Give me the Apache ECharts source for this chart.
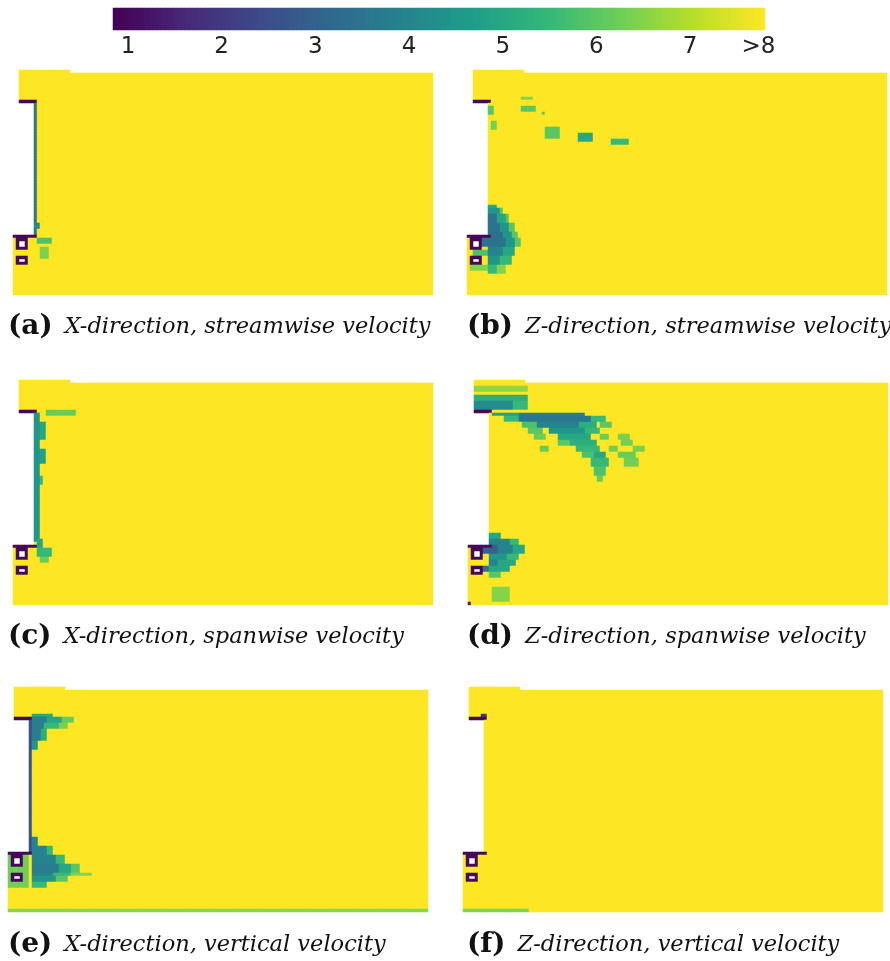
<!DOCTYPE html>
<html>
<head>
<meta charset="utf-8">
<script src="https://cdn.jsdelivr.net/npm/echarts@6/dist/echarts.min.js"></script>
<style>
  html, body { margin: 0; padding: 0; background: #ffffff; }
  #chart { width: 890px; height: 961px; }
</style>
</head>
<body>
<div id="chart"></div>
<script>
// Velocity-magnitude planes sampled on a 140 x 75 cell grid (row 0 = top, col 0 = left).
const COLS = 140;
const ROWS = 75;
const FREE_STREAM = 8;      // everything not listed below reads ">8"
const SOLID_EDGE = 1;       // no-slip edges of the building and openings

// Colour scale
const scaleMin = 0.84;
const scaleMax = 7.8;
const colorbarSteps = 163;
const tickValues = [1, 2, 3, 4, 5, 6, 7, 7.73];
const tickLabels = ['1', '2', '3', '4', '5', '6', '7', '>8'];

const panelTags = ['(a)', '(b)', '(c)', '(d)', '(e)', '(f)'];
const panelTitles = [
  'X-direction, streamwise velocity',
  'Z-direction, streamwise velocity',
  'X-direction, spanwise velocity',
  'Z-direction, spanwise velocity',
  'X-direction, vertical velocity',
  'Z-direction, vertical velocity'
];

// Cells without flow data: [rowFrom, rowTo, colFrom, colTo]
const noDataCells = [
  [0, 10, 0, 1],      // beside the roof block
  [0, 0, 19, 139],    // top boundary step
  [11, 54, 0, 6],     // building
  [57, 58, 2, 3],     // upper opening
  [63, 63, 2, 3]      // lower opening
];

// Solid edges: [rowFrom, rowTo, colFrom, colTo]
const solidEdgeCells = [
  [10, 10, 2, 7],
  [55, 55, 0, 7],
  [56, 56, 1, 4], [59, 59, 1, 4], [57, 58, 1, 1], [57, 58, 4, 4],
  [62, 62, 1, 4], [64, 64, 1, 4], [63, 63, 1, 1], [63, 63, 4, 4]
];

// Low-speed regions per plane: [rowFrom, rowTo, colFrom, colTo, value]
const fieldXStreamwise = [
  [11, 54, 7, 7, 3.6],
  [51, 52, 7, 8, 4.2],
  [56, 57, 8, 12, 5.8],
  [59, 62, 9, 11, 6.4]
];

const fieldZStreamwise = [
  [9, 9, 18, 21, 6.5],
  [12, 13, 18, 22, 6.0],
  [14, 14, 25, 25, 6.0],
  [12, 14, 7, 8, 6.0],
  [17, 19, 8, 9, 6.3],
  [19, 22, 26, 30, 6.0],
  [21, 23, 37, 41, 5.0],
  [23, 24, 48, 53, 5.5],
  [45, 45, 7, 9, 5.0],
  [46, 47, 7, 10, 4.5], [46, 47, 11, 11, 6.0],
  [48, 50, 7, 9, 3.5], [48, 50, 10, 12, 5.0], [48, 50, 13, 13, 6.0],
  [51, 53, 7, 10, 3.5], [51, 53, 11, 13, 4.5], [51, 53, 14, 15, 6.0],
  [54, 55, 7, 11, 3.4], [54, 55, 12, 14, 4.5], [54, 55, 15, 16, 6.0],
  [56, 58, 5, 12, 3.5], [56, 58, 13, 15, 4.5], [56, 58, 16, 17, 6.0],
  [59, 61, 7, 11, 4.0], [59, 61, 12, 15, 5.0],
  [62, 64, 7, 10, 4.5], [62, 64, 11, 14, 5.5],
  [65, 67, 7, 9, 5.5], [65, 67, 10, 12, 6.5],
  [60, 61, 2, 6, 5.8],
  [65, 66, 1, 6, 6.5]
];

const fieldXSpanwise = [
  [10, 11, 11, 20, 6.2],
  [11, 53, 7, 8, 4.5],
  [14, 19, 9, 10, 5.0],
  [23, 27, 9, 10, 4.8],
  [32, 34, 9, 9, 5.5],
  [53, 55, 8, 9, 5.0],
  [56, 58, 8, 12, 5.5],
  [59, 60, 9, 11, 6.2]
];

const fieldZSpanwise = [
  [2, 3, 2, 19, 6.6],
  [5, 6, 2, 19, 5.2],
  [7, 9, 2, 14, 4.2], [7, 9, 15, 19, 5.5],
  [11, 11, 8, 16, 4.8], [11, 11, 17, 38, 3.8],
  [12, 13, 12, 16, 5.5], [12, 13, 17, 40, 3.6], [12, 13, 41, 45, 5.5],
  [14, 15, 18, 22, 5.8], [14, 15, 23, 36, 4.0], [14, 15, 37, 42, 5.2], [14, 15, 44, 47, 6.0],
  [16, 17, 20, 24, 6.0], [16, 17, 27, 38, 4.5], [16, 17, 39, 43, 5.5],
  [18, 19, 22, 25, 6.2], [18, 19, 30, 40, 5.0], [18, 19, 44, 46, 6.2], [18, 19, 50, 53, 6.4],
  [20, 21, 30, 33, 6.0], [20, 21, 34, 42, 5.2], [20, 21, 51, 54, 6.3],
  [22, 23, 24, 26, 6.2], [22, 23, 36, 43, 5.5], [22, 23, 47, 49, 6.3], [22, 23, 55, 58, 6.4],
  [24, 25, 38, 41, 5.8], [24, 25, 42, 45, 5.0], [24, 25, 50, 55, 6.2],
  [26, 28, 41, 46, 5.5], [26, 28, 52, 56, 6.3],
  [29, 31, 42, 45, 5.8],
  [32, 33, 43, 44, 6.2],
  [51, 52, 7, 10, 5.0],
  [53, 54, 7, 13, 4.0], [53, 54, 14, 16, 5.5],
  [55, 57, 5, 9, 3.0], [55, 57, 10, 14, 4.0], [55, 57, 15, 18, 5.0],
  [58, 59, 7, 12, 4.5], [58, 59, 13, 16, 5.5],
  [60, 61, 7, 9, 4.0], [60, 61, 10, 15, 5.0],
  [62, 63, 5, 6, 3.5], [62, 63, 7, 13, 5.0],
  [64, 65, 7, 10, 6.0],
  [69, 73, 8, 13, 6.5],
  [74, 74, 0, 0, 1.5]
];

const fieldXVertical = [
  [9, 9, 8, 14, 5.0],
  [10, 11, 8, 12, 3.8], [10, 11, 13, 17, 5.0], [10, 11, 18, 21, 6.2],
  [12, 13, 8, 11, 3.8], [12, 13, 12, 16, 5.5], [12, 13, 17, 19, 6.4],
  [14, 17, 8, 10, 3.8], [14, 17, 11, 12, 5.2],
  [18, 20, 8, 9, 4.5],
  [11, 54, 7, 7, 2.6],
  [56, 66, 0, 6, 6.3],
  [50, 52, 8, 9, 4.0],
  [53, 55, 8, 12, 4.0], [53, 55, 13, 14, 5.5],
  [56, 58, 8, 15, 4.0], [56, 58, 16, 18, 5.5],
  [59, 61, 8, 16, 3.8], [59, 61, 17, 20, 5.0], [59, 61, 21, 23, 6.0],
  [62, 62, 8, 14, 4.0], [62, 62, 15, 20, 5.5], [62, 62, 21, 27, 6.5],
  [63, 64, 8, 15, 4.5], [63, 64, 16, 19, 6.0],
  [65, 66, 8, 12, 5.5],
  [74, 74, 0, 139, 6.6]
];

const fieldZVertical = [
  [9, 9, 6, 7, 2.0],
  [74, 74, 0, 21, 6.5]
];

const panelFields = [
  fieldXStreamwise, fieldZStreamwise,
  fieldXSpanwise, fieldZSpanwise,
  fieldXVertical, fieldZVertical
];

// Layout (px)
const panelOrigins = [[13, 70], [467, 70], [13, 380], [468, 380], [8, 687], [463, 687]];
const CELL = 3;
const captionOrigins = [[8, 313], [467, 313], [8, 623], [467, 623], [8, 931], [467, 931]];

const viridis = ['#440154', '#482878', '#3e4989', '#31688e', '#26828e',
                 '#1f9e89', '#35b779', '#6ece58', '#b5de2b', '#fde725'];

function paint(grid, runs, fixed) {
  runs.forEach(function (run) {
    const v = fixed !== undefined ? fixed : run[4];
    for (let r = run[0]; r <= run[1]; r++) {
      for (let c = run[2]; c <= run[3]; c++) grid[r][c] = v;
    }
  });
}

function buildField(runs) {
  const grid = [];
  for (let r = 0; r < ROWS; r++) grid.push(new Array(COLS).fill(FREE_STREAM));
  paint(grid, runs);
  paint(grid, solidEdgeCells, SOLID_EDGE);
  paint(grid, noDataCells, null);
  const data = [];
  for (let r = 0; r < ROWS; r++) {
    for (let c = 0; c < COLS; c++) {
      if (grid[r][c] !== null) data.push([c, r, grid[r][c]]);
    }
  }
  return data;
}

const colCats = Array.from({ length: COLS }, (_, i) => String(i));
const rowCats = Array.from({ length: ROWS }, (_, i) => String(i));
const barCats = Array.from({ length: colorbarSteps }, (_, i) => String(i));
const colorbarData = barCats.map((_, i) =>
  [i, 0, scaleMin + (i + 0.5) * (scaleMax - scaleMin) / colorbarSteps]);

const grids = [], xAxes = [], yAxes = [], series = [];

panelFields.forEach(function (runs, i) {
  grids.push({
    left: panelOrigins[i][0], top: panelOrigins[i][1],
    width: COLS * CELL, height: ROWS * CELL,
    containLabel: false
  });
  xAxes.push({ type: 'category', gridIndex: i, data: colCats, show: false });
  yAxes.push({ type: 'category', gridIndex: i, data: rowCats, inverse: true, show: false });
  series.push({
    type: 'heatmap', xAxisIndex: i, yAxisIndex: i,
    data: buildField(runs),
    progressive: 0,
    itemStyle: { borderWidth: 0 },
    emphasis: { disabled: true }
  });
});

// Colour bar
const cb = panelFields.length;
grids.push({ left: 113, top: 8, width: 652, height: 22, containLabel: false });
xAxes.push({ type: 'category', gridIndex: cb, data: barCats, show: false, position: 'top' });
xAxes.push({
  type: 'value', gridIndex: cb, min: scaleMin, max: scaleMax, position: 'bottom',
  axisLine: { show: false }, axisTick: { show: false }, splitLine: { show: false },
  axisLabel: {
    customValues: tickValues,
    formatter: function (v) {
      const k = tickValues.findIndex(t => Math.abs(t - v) < 1e-6);
      return k >= 0 ? tickLabels[k] : '';
    },
    fontFamily: 'DejaVu Sans', fontSize: 23, color: '#222', margin: 6
  }
});
yAxes.push({ type: 'category', gridIndex: cb, data: ['0'], show: false });
series.push({
  type: 'heatmap', xAxisIndex: cb, yAxisIndex: cb,
  data: colorbarData, progressive: 0,
  itemStyle: { borderWidth: 0 },
  emphasis: { disabled: true }
});

const titles = panelTags.map(function (tag, i) {
  return {
    left: captionOrigins[i][0], top: captionOrigins[i][1], padding: 0,
    text: '{tag|' + tag + '}{txt|' + panelTitles[i] + '}',
    textStyle: {
      fontFamily: 'DejaVu Serif', fontSize: 22, fontWeight: 'normal', color: '#111',
      rich: {
        tag: { fontFamily: 'DejaVu Serif', fontWeight: 'bold', fontSize: 28, color: '#111',
               padding: [0, 12, 0, 0] },
        txt: { fontFamily: 'DejaVu Serif', fontStyle: 'italic', fontWeight: 'normal',
               fontSize: 22.5, color: '#111' }
      }
    }
  };
});

const chart = echarts.init(document.getElementById('chart'), null, { renderer: 'canvas' });
chart.setOption({
  animation: false,
  backgroundColor: '#ffffff',
  title: titles,
  grid: grids,
  xAxis: xAxes,
  yAxis: yAxes,
  visualMap: {
    type: 'continuous', show: false,
    min: scaleMin, max: scaleMax,
    seriesIndex: series.map((_, i) => i),
    inRange: { color: viridis },
    outOfRange: { color: '#fde725' }
  },
  series: series
});
</script>
</body>
</html>
